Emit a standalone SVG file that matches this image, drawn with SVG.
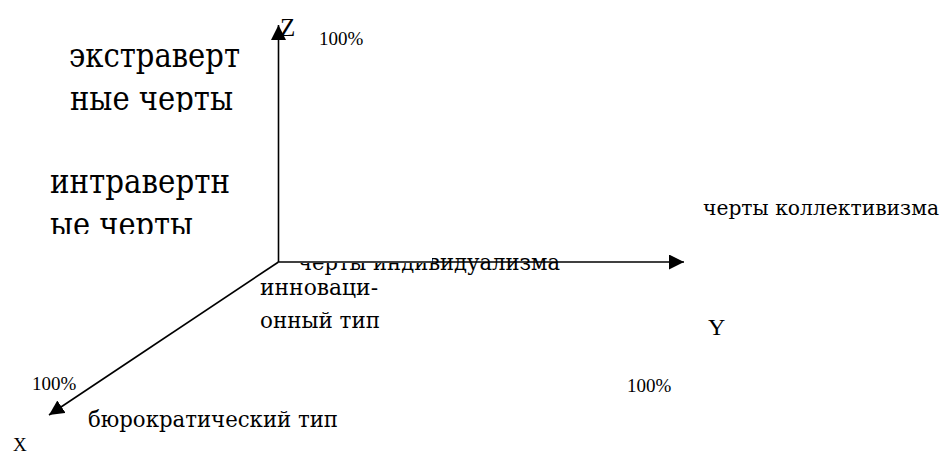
<svg xmlns="http://www.w3.org/2000/svg" width="949" height="455" viewBox="0 0 949 455">
  <style>
    text { font-family: "Liberation Serif", "DejaVu Serif", serif; fill: #000; }
    .cyr { font-family: "DejaVu Serif", "Liberation Serif", serif; }
    .big { font-size: 33px; }
    .mid { font-size: 23px; }
    .pct { font-size: 19px; }
    .axis { stroke: #000; stroke-width: 1.6; fill: none; }
  </style>
  <defs>
    <marker id="arrow" markerUnits="userSpaceOnUse" markerWidth="16" markerHeight="16" refX="15" refY="7.5" orient="auto">
      <path d="M0,0 L15,7.5 L0,15 Z" fill="#000"/>
    </marker>
    <clipPath id="clipExtra"><rect x="0" y="0" width="270" height="112"/></clipPath>
    <clipPath id="clipIntra"><rect x="0" y="150" width="270" height="84"/></clipPath>
    <clipPath id="clipIndiv">
      <rect x="280" y="263" width="152" height="30"/>
      <rect x="432" y="230" width="200" height="60"/>
    </clipPath>
  </defs>

  <g id="connectors">
    <line class="axis" x1="278.5" y1="262" x2="278.5" y2="25" marker-end="url(#arrow)"/>
    <line class="axis" x1="278.5" y1="262" x2="684" y2="262" marker-end="url(#arrow)"/>
    <line class="axis" x1="278.5" y1="262" x2="49" y2="415" marker-end="url(#arrow)"/>
  </g>

  <g id="label-z"><text x="280" y="36" font-size="25">Z</text></g>
  <g id="label-z-100"><text class="pct" x="319" y="45">100%</text></g>

  <g id="extravert" clip-path="url(#clipExtra)">
    <text class="cyr big" x="69" y="67" textLength="171" lengthAdjust="spacingAndGlyphs">экстраверт</text>
    <text class="cyr big" x="70" y="110" textLength="163" lengthAdjust="spacingAndGlyphs">ные черты</text>
  </g>

  <g id="intravert" clip-path="url(#clipIntra)">
    <text class="cyr big" x="50" y="193" textLength="180" lengthAdjust="spacingAndGlyphs">интравертн</text>
    <text class="cyr big" x="50" y="236" textLength="143" lengthAdjust="spacingAndGlyphs">ые черты</text>
  </g>

  <g id="collectivism"><text class="cyr" font-size="21" x="703" y="215" textLength="236" lengthAdjust="spacingAndGlyphs">черты коллективизма</text></g>

  <g id="individualism" clip-path="url(#clipIndiv)">
    <text class="cyr mid" x="298" y="270" textLength="262" lengthAdjust="spacingAndGlyphs">черты индивидуализма</text>
  </g>

  <g id="innovation">
    <text class="cyr mid" x="260" y="295" textLength="118" lengthAdjust="spacingAndGlyphs">инноваци-</text>
    <text class="cyr mid" x="260" y="328" textLength="120" lengthAdjust="spacingAndGlyphs">онный тип</text>
  </g>

  <g id="label-y"><text x="708" y="335" font-size="24">Y</text></g>
  <g id="label-y-100"><text class="pct" x="627" y="392">100%</text></g>
  <g id="label-x-100"><text class="pct" x="32" y="390">100%</text></g>

  <g id="bureaucratic"><text class="cyr mid" x="88" y="427" textLength="250" lengthAdjust="spacingAndGlyphs">бюрократический тип</text></g>
  <g id="label-x"><text x="13" y="451" font-size="19">X</text></g>
</svg>
